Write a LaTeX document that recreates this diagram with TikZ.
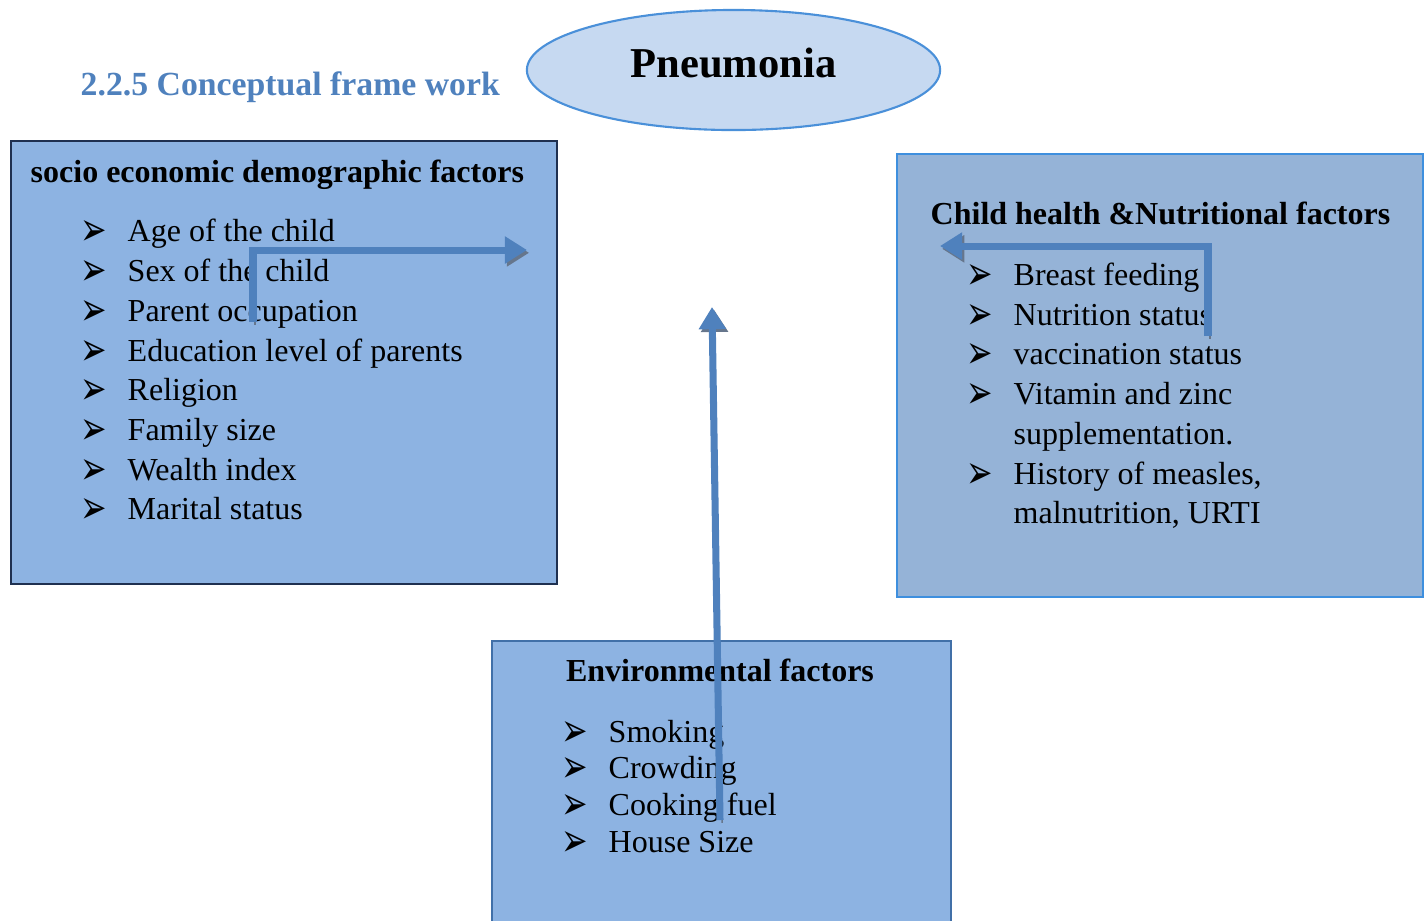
\documentclass[tikz,border=0pt]{standalone}
\usepackage{fontspec}
\usepackage{graphicx}
\setmainfont{Liberation Serif}
\newfontfamily\dingfont{DejaVu Sans}
\usetikzlibrary{arrows.meta,shapes.geometric}
\definecolor{leftfill}{HTML}{8DB3E2}
\definecolor{leftedge}{HTML}{1F3050}
\definecolor{rightfill}{HTML}{95B3D7}
\definecolor{rightedge}{HTML}{3E8FDE}
\definecolor{envedge}{HTML}{4170A8}
\definecolor{ovalfill}{HTML}{C6D9F1}
\definecolor{ovaledge}{HTML}{4A90D9}
\definecolor{linkblue}{HTML}{4F81BD}
\definecolor{shadowgray}{HTML}{66768C}
\pgfdeclarelayer{nodelayer}
\pgfdeclarelayer{edgelayer}
\pgfsetlayers{nodelayer,edgelayer,main}
\tikzstyle{box}=[rectangle, anchor=north west, inner sep=0, line width=0.6pt]
\tikzstyle{oval}=[ellipse, fill=ovalfill, draw=ovaledge, line width=0.6pt, inner sep=0, minimum width=4.13cm, minimum height=1.2cm]
\tikzstyle{head}=[anchor=base west, inner sep=0, font=\fontsize{9.1}{11}\selectfont\bfseries]
\tikzstyle{item}=[anchor=base west, inner sep=0, font=\fontsize{9.1}{11}\selectfont]
\tikzstyle{link}=[draw=linkblue, line width=2pt, line join=miter, -{Triangle[length=6.3pt,width=7.4pt]}, preaction={draw=shadowgray, transform canvas={shift={(0.6pt,-0.8pt)}}}]
\newcommand{\bul}[1]{\makebox[0.47cm][l]{\smash{\raisebox{-1.2pt}{\scalebox{1.25}[1.85]{\dingfont\fontsize{7.2}{9}\selectfont ➢}}}}#1}

\begin{document}
\begin{tikzpicture}[x=0.01cm, y=-0.01cm]
	\useasboundingbox (0,0) rectangle (1424,920);
	\begin{pgfonlayer}{nodelayer}
		% heading and the disease in the middle
		\node [anchor=base west, inner sep=0, text=linkblue, font=\fontsize{9.6}{11}\selectfont\bfseries] (0) at (80,95) {2.2.5 Conceptual frame work};
		\node [style=oval] (1) at (733.5,70) {};
		\node [anchor=base, inner sep=0, font=\fontsize{12.1}{14}\selectfont\bfseries] (2) at (733.5,77) {Pneumonia};
		% the three groups of factors
		\node [style=box, fill=leftfill, draw=leftedge, minimum width=5.46cm, minimum height=4.43cm] (3) at (10,140) {};
		\node [style=box, fill=rightfill, draw=rightedge, minimum width=5.26cm, minimum height=4.43cm] (4) at (896,153) {};
		\node [style=box, fill=leftfill, draw=envedge, minimum width=4.59cm, minimum height=3.0cm] (5) at (491,640) {};
		% socio economic
		\node [style=head] (6) at (30,182) {socio economic demographic factors};
		\node [style=item] (7) at (80,241) {\bul{Age of the child}};
		\node [style=item] (8) at (80,281) {\bul{Sex of the child}};
		\node [style=item] (9) at (80,321) {\bul{Parent occupation}};
		\node [style=item] (10) at (80,361) {\bul{Education level of parents}};
		\node [style=item] (11) at (80,400) {\bul{Religion}};
		\node [style=item] (12) at (80,440) {\bul{Family size}};
		\node [style=item] (13) at (80,480) {\bul{Wealth index}};
		\node [style=item] (14) at (80,519) {\bul{Marital status}};
		% child health
		\node [style=head] (15) at (930,224) {Child health \&Nutritional factors};
		\node [style=item] (16) at (966,285) {\bul{Breast feeding}};
		\node [style=item] (17) at (966,325) {\bul{Nutrition status}};
		\node [style=item] (18) at (966,364) {\bul{vaccination status}};
		\node [style=item] (19) at (966,404) {\bul{Vitamin and zinc}};
		\node [style=item] (20) at (1013,444) {supplementation.};
		\node [style=item] (21) at (966,484) {\bul{History of measles,}};
		\node [style=item] (22) at (1013,523) {malnutrition, URTI};
		% environment
		\node [style=head, anchor=base] (23) at (720,681) {Environmental factors};
		\node [style=item] (24) at (561,742) {\bul{Smoking}};
		\node [style=item] (25) at (561,778) {\bul{Crowding}};
		\node [style=item] (26) at (561,815) {\bul{Cooking fuel}};
		\node [style=item] (27) at (561,852) {\bul{House Size}};
	\end{pgfonlayer}
	\begin{pgfonlayer}{edgelayer}
		\coordinate (a) at (253,322);
		\coordinate (b) at (527,250);
		\coordinate (c) at (1208,336);
		\coordinate (d) at (940,246);
		\coordinate (e) at (720,820);
		\coordinate (f) at (712,307);
		\draw [style=link] (a) |- (b);
		\draw [style=link] (c) |- (d);
		\draw [style=link] (e) to (f);
	\end{pgfonlayer}
\end{tikzpicture}
\end{document}
